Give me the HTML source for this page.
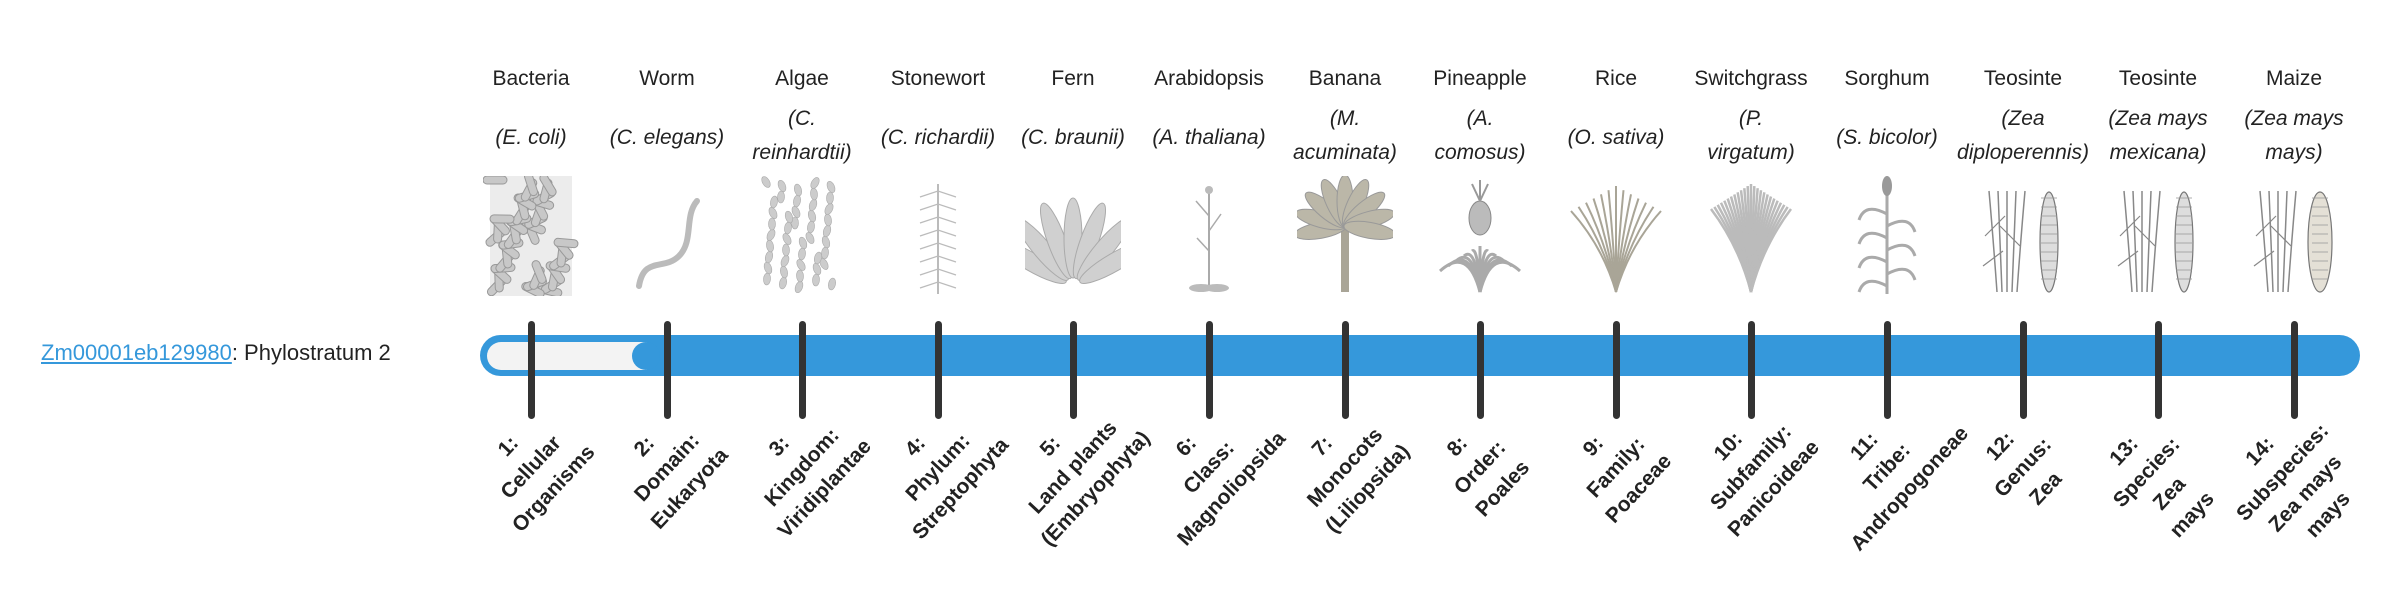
<!DOCTYPE html>
<html><head><meta charset="utf-8">
<style>
html,body{margin:0;padding:0;background:#fff;}
body{width:2400px;height:580px;position:relative;overflow:hidden;font-family:"Liberation Sans",sans-serif;color:#222;}
.abs{position:absolute;}
.cn{position:absolute;width:136px;text-align:center;font-size:21px;top:67px;}
.sn{position:absolute;width:150px;text-align:center;font-size:21px;font-style:italic;line-height:34px;}
.tick{position:absolute;width:7px;top:321px;height:98px;background:#333;border-radius:4px;}
.lab{position:absolute;width:240px;text-align:center;font-weight:bold;font-size:21px;line-height:31px;top:421px;transform:rotate(-47deg);transform-origin:50% 50%;color:#222;}
.img{position:absolute;top:176px;width:96px;height:120px;}
</style></head><body>
<div class="abs" style="left:41px;top:340px;font-size:22px;"><span style="color:#3598db;text-decoration:underline;">Zm00001eb129980</span>: Phylostratum 2</div>

<div class="abs" style="left:480px;top:335px;width:1880px;height:41px;background:#3598db;border-radius:21px;"></div>
<div class="abs" style="left:487px;top:342px;width:160px;height:28px;background:#f3f3f3;border-radius:14px 0 0 14px;"></div>
<div class="abs" style="left:632px;top:342px;width:28px;height:28px;background:#3598db;border-radius:14px;"></div>

<div id="cols"></div>

<div class="cn" style="left:463px">Bacteria</div>
<div class="cn" style="left:599px">Worm</div>
<div class="cn" style="left:734px">Algae</div>
<div class="cn" style="left:870px">Stonewort</div>
<div class="cn" style="left:1005px">Fern</div>
<div class="cn" style="left:1141px">Arabidopsis</div>
<div class="cn" style="left:1277px">Banana</div>
<div class="cn" style="left:1412px">Pineapple</div>
<div class="cn" style="left:1548px">Rice</div>
<div class="cn" style="left:1683px">Switchgrass</div>
<div class="cn" style="left:1819px">Sorghum</div>
<div class="cn" style="left:1955px">Teosinte</div>
<div class="cn" style="left:2090px">Teosinte</div>
<div class="cn" style="left:2226px">Maize</div>

<div class="sn" style="left:456px;top:121px">(E. coli)</div>
<div class="sn" style="left:592px;top:121px">(C. elegans)</div>
<div class="sn" style="left:727px;top:102px">(C.<br>reinhardtii)</div>
<div class="sn" style="left:863px;top:121px">(C. richardii)</div>
<div class="sn" style="left:998px;top:121px">(C. braunii)</div>
<div class="sn" style="left:1134px;top:121px">(A. thaliana)</div>
<div class="sn" style="left:1270px;top:102px">(M.<br>acuminata)</div>
<div class="sn" style="left:1405px;top:102px">(A.<br>comosus)</div>
<div class="sn" style="left:1541px;top:121px">(O. sativa)</div>
<div class="sn" style="left:1676px;top:102px">(P.<br>virgatum)</div>
<div class="sn" style="left:1812px;top:121px">(S. bicolor)</div>
<div class="sn" style="left:1948px;top:102px">(Zea<br>diploperennis)</div>
<div class="sn" style="left:2083px;top:102px">(Zea mays<br>mexicana)</div>
<div class="sn" style="left:2219px;top:102px">(Zea mays<br>mays)</div>

<div class="tick" style="left:528px"></div>
<div class="tick" style="left:664px"></div>
<div class="tick" style="left:799px"></div>
<div class="tick" style="left:935px"></div>
<div class="tick" style="left:1070px"></div>
<div class="tick" style="left:1206px"></div>
<div class="tick" style="left:1342px"></div>
<div class="tick" style="left:1477px"></div>
<div class="tick" style="left:1613px"></div>
<div class="tick" style="left:1748px"></div>
<div class="tick" style="left:1884px"></div>
<div class="tick" style="left:2020px"></div>
<div class="tick" style="left:2155px"></div>
<div class="tick" style="left:2291px"></div>

<div class="lab" style="left:411px">1:<br>Cellular<br>Organisms</div>
<div class="lab" style="left:547px">2:<br>Domain:<br>Eukaryota</div>
<div class="lab" style="left:682px">3:<br>Kingdom:<br>Viridiplantae</div>
<div class="lab" style="left:818px">4:<br>Phylum:<br>Streptophyta</div>
<div class="lab" style="left:953px">5:<br>Land plants<br>(Embryophyta)</div>
<div class="lab" style="left:1089px">6:<br>Class:<br>Magnoliopsida</div>
<div class="lab" style="left:1225px">7:<br>Monocots<br>(Liliopsida)</div>
<div class="lab" style="left:1360px">8:<br>Order:<br>Poales</div>
<div class="lab" style="left:1496px">9:<br>Family:<br>Poaceae</div>
<div class="lab" style="left:1631px">10:<br>Subfamily:<br>Panicoideae</div>
<div class="lab" style="left:1767px">11:<br>Tribe:<br>Andropogoneae</div>
<div class="lab" style="left:1903px">12:<br>Genus:<br>Zea</div>
<div class="lab" style="left:2038px">13:<br>Species:<br>Zea<br>mays</div>
<div class="lab" style="left:2174px">14:<br>Subspecies:<br>Zea mays<br>mays</div>

<script>
(function(){
var c=document.getElementById('cols');
function svg(i,inner){var x=531+135.6*i-48;var d=document.createElement('div');d.className='img';d.style.left=x+'px';
d.innerHTML='<svg width="96" height="120" viewBox="0 0 96 120">'+inner+'</svg>';c.appendChild(d);}
var s,k;
s='<rect x="7" y="0" width="82" height="120" fill="#ececec"/>';
for(k=0;k<45;k++){var x=12+(k*37)%72,y=4+(k*53)%112,a=(k*67)%180;s+='<rect x="'+(x-12)+'" y="'+(y-4)+'" width="24" height="8" rx="4" fill="#c8c8c8" stroke="#999" stroke-width="1" transform="rotate('+a+' '+x+' '+y+')"/>';}
svg(0,s);
svg(1,'<path d="M20 110 C25 80,45 95,60 80 C75 65,65 40,78 25" stroke="#bbb" stroke-width="6" fill="none" stroke-linecap="round"/>');
s='';for(k=0;k<45;k++){var x=12+(k*29)%72,y=6+(k*41)%108;s+='<ellipse cx="'+x+'" cy="'+y+'" rx="3.5" ry="6" fill="#ccc" stroke="#aaa" stroke-width=".6" transform="rotate('+((k*31)%60-30)+' '+x+' '+y+')"/>';}
svg(2,s);
function grass(n,col,w,spread,top){var o='';for(var k=0;k<n;k++){var t=(k/(n-1))-0.5;var ex=48+t*spread,ey=top+Math.abs(t)*50;o+='<path d="M48 116 Q'+(48+t*spread*0.3)+' 70,'+ex+' '+ey+'" stroke="'+col+'" stroke-width="'+w+'" fill="none"/>';}return o;}
s='<line x1="48" y1="118" x2="48" y2="8" stroke="#bbb" stroke-width="2"/>';for(k=0;k<8;k++){var y=15+k*13;s+='<path d="M30 '+(y+6)+' L48 '+y+' L66 '+(y+6)+'" stroke="#bbb" stroke-width="1.2" fill="none"/>';}
svg(3,s);
s='';for(k=0;k<7;k++){var a=-60+k*20;s+='<ellipse cx="48" cy="62" rx="9" ry="40" fill="#d0d0d0" stroke="#aaa" transform="rotate('+a+' 48 110)"/>';}
svg(4,s);
svg(5,'<line x1="48" y1="115" x2="48" y2="15" stroke="#aaa" stroke-width="2"/><path d="M48 40 L35 25 M48 55 L60 38 M48 75 L36 62" stroke="#aaa" stroke-width="1.5"/><ellipse cx="40" cy="112" rx="12" ry="4" fill="#bbb"/><ellipse cx="56" cy="112" rx="12" ry="4" fill="#bbb"/><circle cx="48" cy="14" r="4" fill="#bbb"/>');
s='<rect x="44" y="50" width="8" height="66" fill="#a9a597"/>';for(k=0;k<9;k++){var a=-100+k*25;s+='<ellipse cx="48" cy="25" rx="8" ry="26" fill="#bbb7a8" stroke="#999" transform="rotate('+a+' 48 50)"/>';}
svg(6,s);
svg(7,grass(11,'#aaa',3,80,70)+'<ellipse cx="48" cy="42" rx="11" ry="17" fill="#bbb" stroke="#888"/><path d="M48 25 L40 8 M48 25 L48 4 M48 25 L56 8" stroke="#999" stroke-width="2"/>');
svg(8,grass(13,'#a9a597',2,90,10));
svg(9,grass(25,'#bbb',2.5,80,8));
s='<line x1="48" y1="118" x2="48" y2="12" stroke="#aaa" stroke-width="3"/><ellipse cx="48" cy="10" rx="5" ry="10" fill="#999"/>';for(k=0;k<7;k++){var y=30+k*12;s+='<path d="M48 '+(y+8)+' Q'+(k%2?70:26)+' '+(y-4)+','+(k%2?76:20)+' '+(y+14)+'" stroke="#aaa" stroke-width="3" fill="none"/>';}
svg(10,s);
function teo(cob){var o='';for(var k=0;k<5;k++){o+='<path d="M'+(22+k*5)+' 116 Q'+(18+k*7)+' 60,'+(14+k*9)+' 15" stroke="#888" stroke-width="1.5" fill="none"/>';}o+='<path d="M10 60 L30 40 M45 70 L25 50 M8 90 L28 75" stroke="#888" stroke-width="1.2"/>';
o+='<ellipse cx="74" cy="66" rx="'+(cob?12:9)+'" ry="50" fill="'+(cob?'#e4e0d6':'#ddd')+'" stroke="#777" stroke-width="1.2"/>';for(var j=0;j<10;j++)o+='<line x1="66" y1="'+(22+j*9)+'" x2="82" y2="'+(22+j*9)+'" stroke="#999" stroke-width=".8"/>';return o;}
svg(11,teo(0));svg(12,teo(0));svg(13,teo(1));
})();
</script>
</body></html>
